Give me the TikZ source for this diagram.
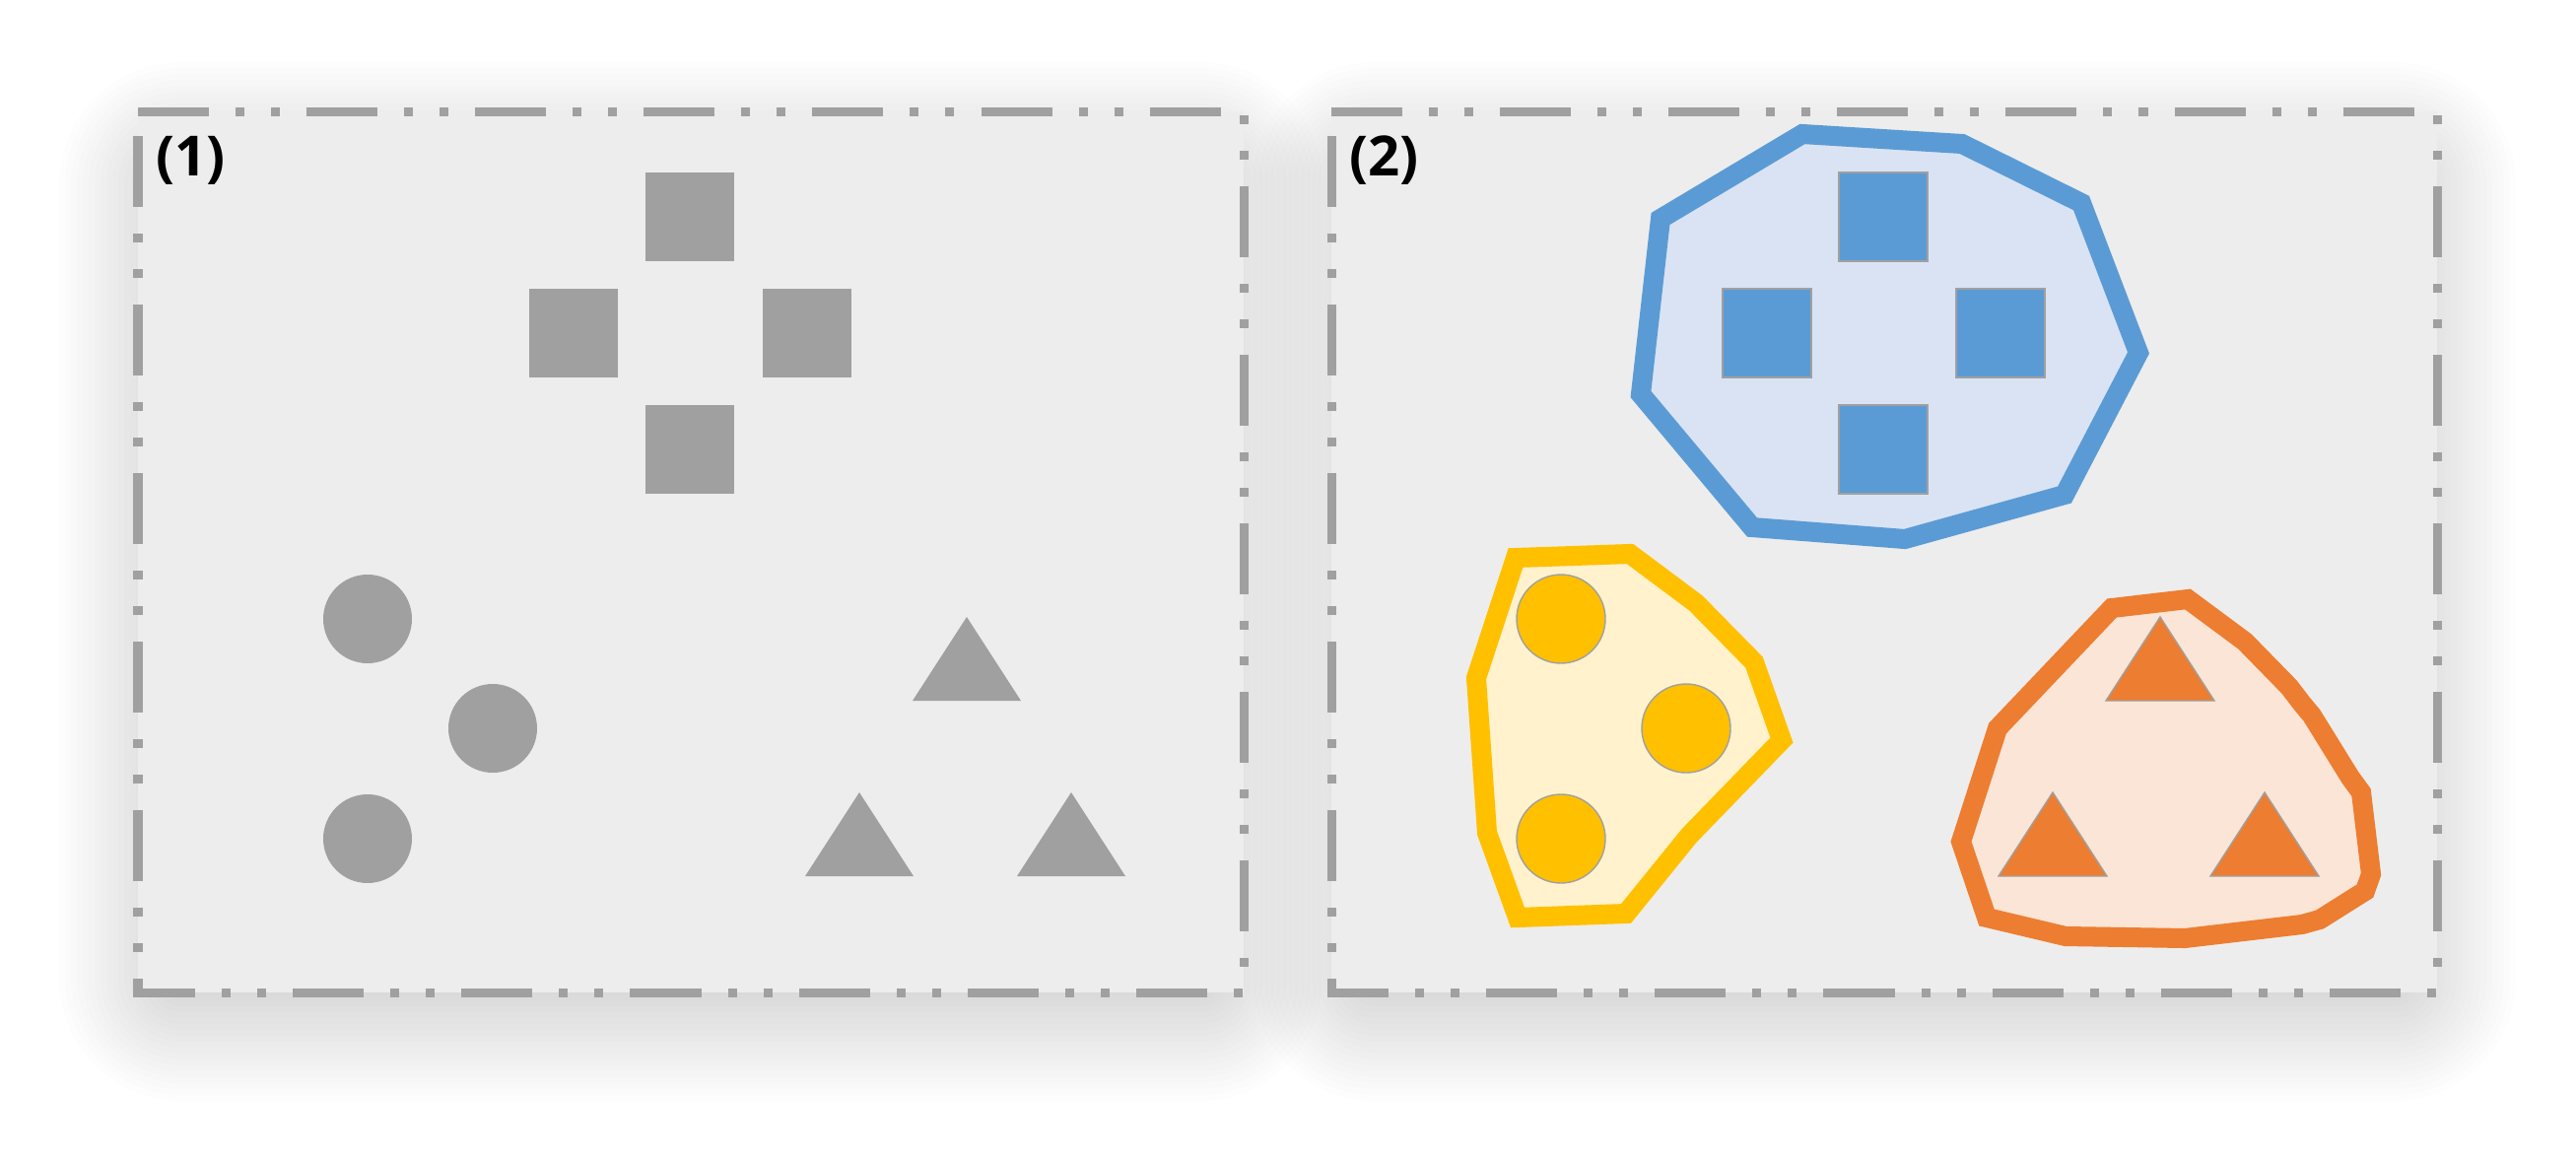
\documentclass[tikz,border=0pt]{standalone}
\usepackage{fontspec}
\setsansfont{Open Sans}
\definecolor{shapeGray}{HTML}{A0A0A0}
\definecolor{panelGray}{HTML}{EDEDED}
\definecolor{groupBlue}{HTML}{5B9BD5}
\definecolor{groupBlueFill}{HTML}{DAE3F3}
\definecolor{groupYellow}{HTML}{FFC000}
\definecolor{groupYellowFill}{HTML}{FFF2CC}
\definecolor{groupOrange}{HTML}{ED7D31}
\definecolor{groupOrangeFill}{HTML}{FBE5D6}
\tikzset{
  shadowlayer/.style={fill=black, opacity=0.0065},
  panel/.style={fill=panelGray, draw=shapeGray, line width=2.56pt,
      dash pattern=on 0.72cm off 0.27cm on 0.09cm off 0.27cm on 0.09cm off 0.27cm},
  panellabel/.style={font=\sffamily\bfseries\fontsize{16}{18}\selectfont,
      anchor=base west, inner sep=0pt},
  hull/.style={line width=5.7pt, line join=miter},
  member/.style={draw=shapeGray, line width=0.4pt},
}
% soft drop shadow under a panel: corners #1,#2 and #3,#4
\newcommand\panelshadow[4]{%
  \foreach \s in {-40,-34,...,80}{
    \pgfmathsetmacro\rr{(\s+44)*0.01}
    \fill[shadowlayer, rounded corners=\rr cm]
      (#1-\s,#2-\s+30) rectangle (#3+\s,#4+\s+30);
  }}
% one group of shapes each, styled by the argument
\newcommand\squaregroup[1]{%
  \foreach \cx/\cy in {700/220,582/338,819/338,700/456}
    \path[#1] (\cx-45,\cy-45) rectangle (\cx+45,\cy+45);}
\newcommand\circlegroup[1]{%
  \foreach \cx/\cy in {373/628,500/739,373/851}
    \path[#1] (\cx,\cy) circle[radius=45];}
\newcommand\trianglegroup[1]{%
  \foreach \ax/\ay in {981/626,872/804,1087/804}
    \path[#1] (\ax,\ay) -- (\ax+55,\ay+85) -- (\ax-55,\ay+85) -- cycle;}
\begin{document}
\begin{tikzpicture}[x=0.01cm, y=-0.01cm]
  \useasboundingbox (0,0) rectangle (2614,1175);
  \fill[white] (0,0) rectangle (2614,1175);
  % shadows first, so neither panel covers the other
  \panelshadow{140}{113}{1262}{1007}
  \panelshadow{1351}{113}{2473}{1007}
  % (1) ungrouped points
  \draw[panel] (140,113) -- (1262,113) -- (1262,1007) -- (140,1007) -- cycle;
  \node[panellabel] (label1) at (158,178) {(1)};
  \squaregroup{fill=shapeGray}
  \circlegroup{fill=shapeGray}
  \trianglegroup{fill=shapeGray}
  % (2) grouped points with their hulls
  \draw[panel] (1351,113) -- (2473,113) -- (2473,1007) -- (1351,1007) -- cycle;
  \node[panellabel] (label2) at (1369,178) {(2)};
  \draw[hull, draw=groupBlue, fill=groupBlueFill]
    (1829,136) -- (1991,146) -- (2112,206) -- (2170,358) -- (2095,502)
    -- (1933,547) -- (1778,535) -- (1665,400) -- (1685,222) -- cycle;
  \draw[hull, draw=groupYellow, fill=groupYellowFill]
    (1538,566) -- (1654,562) -- (1721,612) -- (1780,672) -- (1808,751)
    -- (1714,848) -- (1650,927) -- (1540,931) -- (1509,845) -- (1498,688) -- cycle;
  \draw[hull, draw=groupOrange, fill=groupOrangeFill]
    (2143,617) -- (2220,608) -- (2278,651) -- (2323,697) -- (2336,714)
    -- (2346,726) -- (2385,789) -- (2396,804) -- (2406,887) -- (2400,904)
    -- (2354,933) -- (2336,938) -- (2217,952) -- (2096,950) -- (2016,931)
    -- (1990,854) -- (2027,739) -- cycle;
  \begin{scope}[shift={(1211,0)}]
    \squaregroup{member, fill=groupBlue}
    \circlegroup{member, fill=groupYellow}
    \trianglegroup{member, fill=groupOrange}
  \end{scope}
\end{tikzpicture}
\end{document}
